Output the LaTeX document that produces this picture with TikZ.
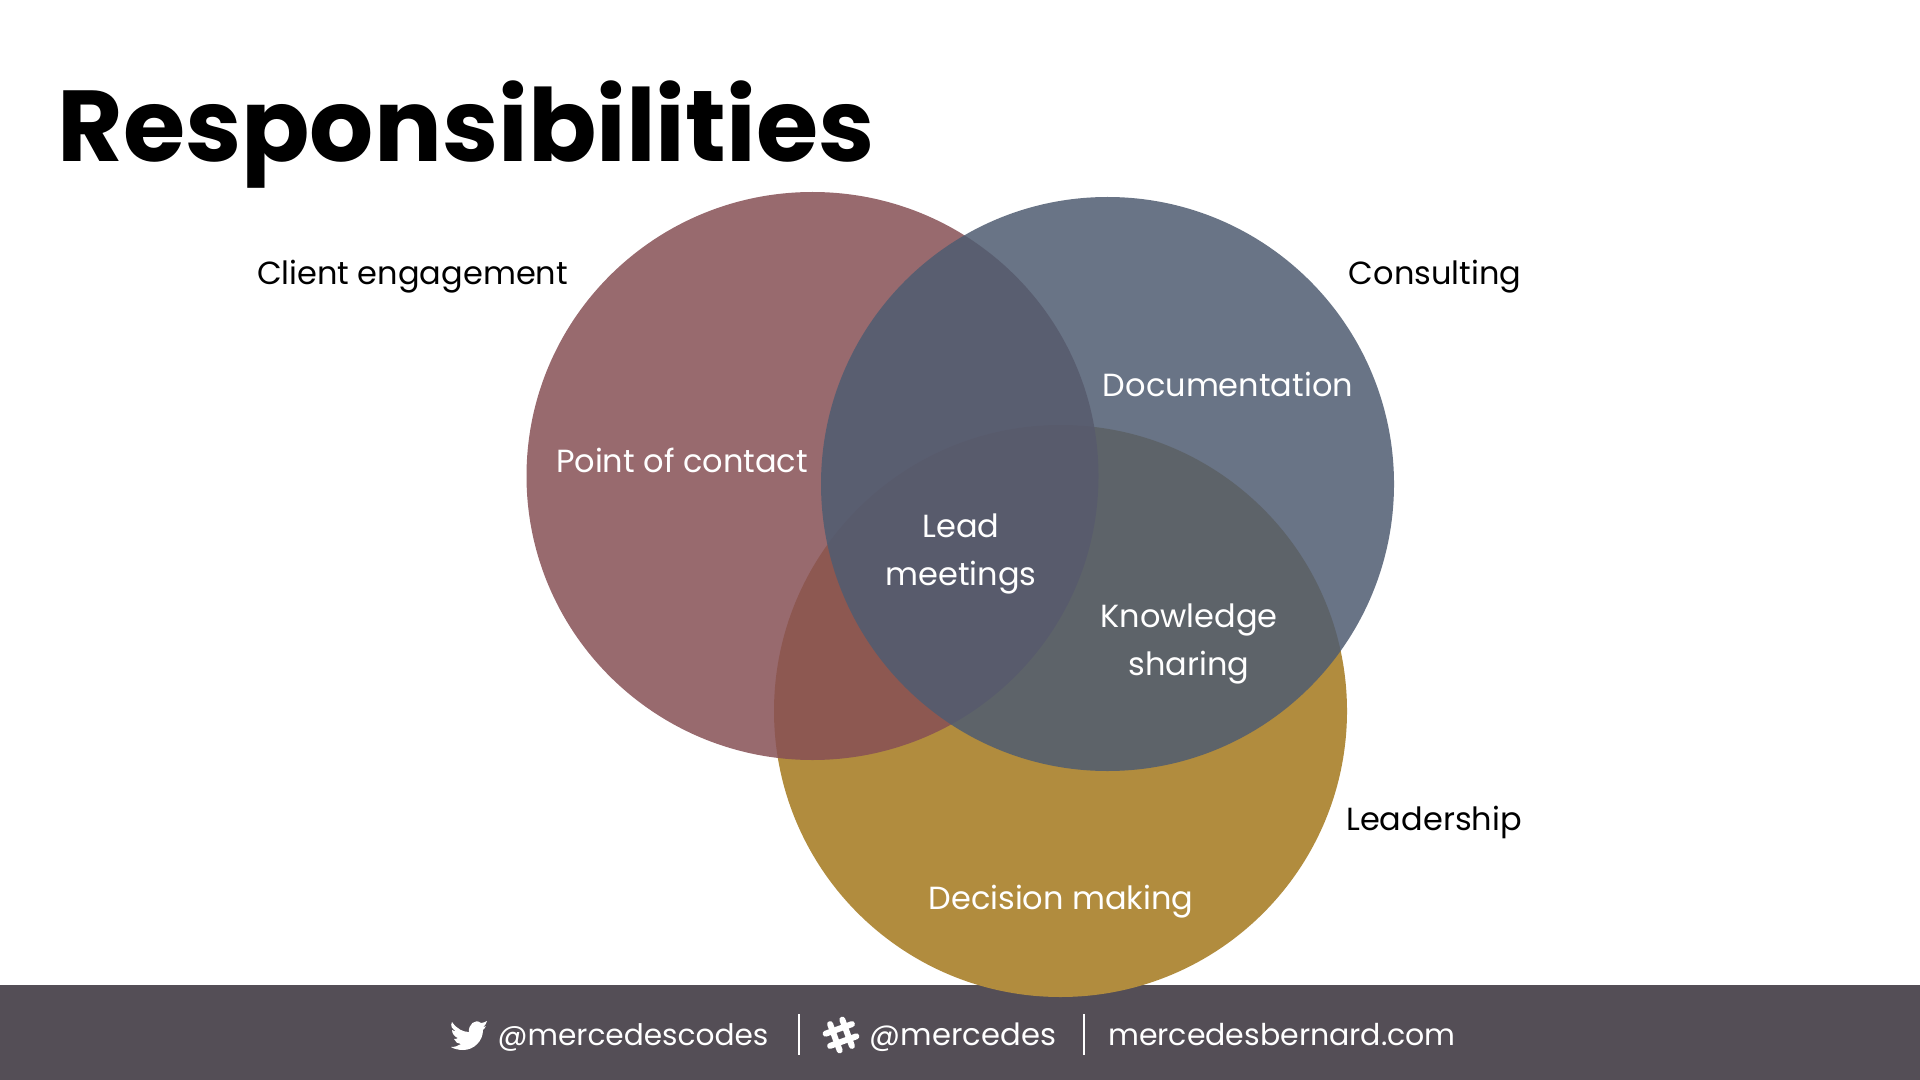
\documentclass[tikz,border=0pt]{standalone}
\usepackage{fontspec}
\usepackage{xcolor}
\setmainfont{Poppins}
\usetikzlibrary{positioning,calc}
\definecolor{clientred}{RGB}{135,80,85}
\definecolor{consultblue}{RGB}{79,92,113}
\definecolor{leadgold}{RGB}{177,140,62}
\definecolor{footerbar}{RGB}{84,78,86}
\tikzset{
    venn/.style={fill=#1, draw=none},
    outer/.style={font=\fontsize{16}{19}\selectfont, text=black, inner sep=0pt},
    inner/.style={font=\fontsize{16}{24}\selectfont, text=white, inner sep=0pt, align=center},
    foot/.style={font=\fontsize{15}{19}\selectfont, text=white, inner sep=0pt},
    sepline/.style={draw=white, line width=1pt},
    hashbar/.style={draw=white, line width=3pt, line cap=round}
}

\begin{document}
\begin{tikzpicture}[x=0.5pt, y=-0.5pt]
    \useasboundingbox (0,0) rectangle (1920,1080);
    \fill[white] (0,0) rectangle (1920,1080);
    % Footer
    \fill[footerbar] (0,985) rectangle (1920,1080);
    % Circles
    \fill[venn=leadgold] (1060.5,711) ellipse [x radius=286.5, y radius=286];
    \fill[venn=clientred, fill opacity=0.85] (812.5,476) ellipse [x radius=286, y radius=284];
    \fill[venn=consultblue, fill opacity=0.85] (1107.5,484) ellipse [x radius=286.5, y radius=287];
    % Title
    \node[inner sep=0pt, anchor=west, font=\fontsize{50.4}{60}\selectfont\bfseries] (title) at (57,135) {Responsibilities};
    % Outside labels
    \node[outer] (client) at (412.5,277) {Client engagement};
    \node[outer] (consulting) at (1435,277) {Consulting};
    \node[outer] (leadership) at (1434,822) {Leadership};
    % Inside labels
    \node[inner] (contact) at (682,460) {Point of contact};
    \node[inner] (docs) at (1228,384) {Documentation};
    \node[inner] (meetings) at (961,554) {Lead\\meetings};
    \node[inner] (sharing) at (1189,644) {Knowledge\\sharing};
    \node[inner] (decision) at (1061,902) {Decision making};
    % Footer text
    \node[foot, font=\fontsize{14.8}{19}\selectfont] (twitter) at (633,1037.5) {@mercedescodes};
    \node[foot, font=\fontsize{15.3}{19}\selectfont] (slack) at (963,1037.5) {@mercedes};
    \node[foot] (site) at (1282,1035) {mercedesbernard.com};
    \coordinate (sepa) at (798.5,1014);
    \coordinate (sepb) at (798.5,1055);
    \coordinate (sepc) at (1084,1014);
    \coordinate (sepd) at (1084,1055);
    \draw[sepline] (sepa) -- (sepb);
    \draw[sepline] (sepc) -- (sepd);
    % Bird
    \fill[white] (452,1022) .. controls (457,1029) and (463,1032) .. (469,1032)
        .. controls (468,1025) and (475,1018) .. (481,1023)
        .. controls (483,1023) and (485,1022) .. (487,1021)
        .. controls (486,1024) and (485,1026) .. (483,1027)
        .. controls (485,1027) and (486,1026) .. (486,1026)
        .. controls (485,1028) and (484,1029) .. (483,1030)
        .. controls (483,1041) and (474,1050) .. (463,1050)
        .. controls (459,1050) and (454,1049) .. (451,1047)
        .. controls (455,1047) and (458,1046) .. (461,1044)
        .. controls (458,1044) and (455,1042) .. (454,1039)
        .. controls (455,1039) and (457,1039) .. (458,1038)
        .. controls (455,1037) and (452,1034) .. (452,1030)
        .. controls (453,1031) and (455,1031) .. (456,1031)
        .. controls (452,1029) and (450,1026) .. (452,1022) -- cycle;
    % Hash
    \begin{scope}[shift={(841,1035)}, rotate=20]
        \draw[hashbar] (-6.5,-14) -- (-6.5,14);
        \draw[hashbar] (6.5,-14) -- (6.5,14);
        \draw[hashbar] (-14,-6.5) -- (14,-6.5);
        \draw[hashbar] (-14,6.5) -- (14,6.5);
    \end{scope}
\end{tikzpicture}
\end{document}
